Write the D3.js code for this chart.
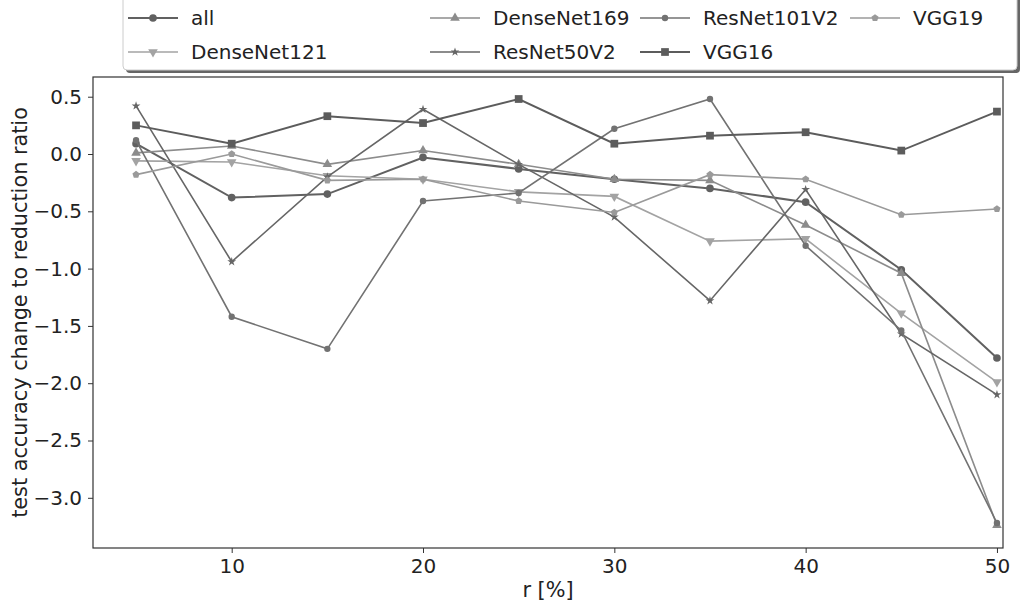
<!DOCTYPE html>
<html>
<head>
<meta charset="utf-8">
<script src="https://cdn.jsdelivr.net/npm/d3@7"></script>
<style>
  body { margin: 0; background: #fff; }
  text { font-family: "DejaVu Sans", sans-serif; fill: #222; }
</style>
</head>
<body>
<div class="svg_area"></div>
<script>
// reduction ratios on the x axis
var ratios = [5, 10, 15, 20, 25, 30, 35, 40, 45, 50];

// test accuracy change per model
var allModels   = [0.09, -0.38, -0.35, -0.03, -0.13, -0.22, -0.30, -0.42, -1.01, -1.78];
var denseNet121 = [-0.06, -0.07, -0.19, -0.22, -0.33, -0.37, -0.76, -0.74, -1.39, -1.99];
var denseNet169 = [0.01, 0.07, -0.09, 0.03, -0.09, -0.22, -0.23, -0.62, -1.04, -3.24];
var resNet50V2  = [0.42, -0.94, -0.20, 0.39, -0.09, -0.55, -1.28, -0.31, -1.57, -2.10];
var resNet101V2 = [0.12, -1.42, -1.70, -0.41, -0.34, 0.22, 0.48, -0.80, -1.54, -3.22];
var vgg16       = [0.25, 0.09, 0.33, 0.27, 0.48, 0.09, 0.16, 0.19, 0.03, 0.37];
var vgg19       = [-0.18, 0.00, -0.23, -0.22, -0.41, -0.51, -0.18, -0.22, -0.53, -0.48];

var seriesNames = ["all", "DenseNet121", "DenseNet169", "ResNet50V2", "ResNet101V2", "VGG16", "VGG19"];
var seriesValues = [allModels, denseNet121, denseNet169, resNet50V2, resNet101V2, vgg16, vgg19];

var xTicks = [10, 20, 30, 40, 50];
var yTicks = [0.5, 0.0, -0.5, -1.0, -1.5, -2.0, -2.5, -3.0];

// styling per series
var styles = {
  "all":         { color: "#616161", width: 2.0, marker: "circle", size: 46 },
  "DenseNet121": { color: "#a3a3a3", width: 1.6, marker: "triangleDown", size: 40 },
  "DenseNet169": { color: "#8c8c8c", width: 1.6, marker: "triangleUp", size: 40 },
  "ResNet50V2":  { color: "#666666", width: 1.6, marker: "star", size: 24 },
  "ResNet101V2": { color: "#727272", width: 1.6, marker: "circle", size: 32 },
  "VGG16":       { color: "#5c5c5c", width: 2.0, marker: "square", size: 60 },
  "VGG19":       { color: "#9a9a9a", width: 1.6, marker: "pentagon", size: 34 }
};

var svgWidth = 1029;
var svgHeight = 603;

var margin = { top: 77, left: 93, bottom: 55 };
var frameRight = 1003;   // where the right spine is drawn
var scaleRight = 1040;   // where x = 52.25 would fall
var chartWidth = frameRight - margin.left;
var chartHeight = svgHeight - margin.top - margin.bottom;

var svg = d3.select(".svg_area")
  .append("svg")
  .attr("width", svgWidth)
  .attr("height", svgHeight);

var chartGroup = svg.append("g")
  .attr("transform", `translate(${margin.left}, ${margin.top})`);

var xScale = d3.scaleLinear()
  .domain([2.75, 52.25])
  .range([0, scaleRight - margin.left]);

var yScale = d3.scaleLinear()
  .domain([-3.438, 0.672])
  .range([chartHeight, 0]);

var minusFmt = function(d) { return d3.format(".1f")(d).replace("-", "\u2212"); };

// axes
var bottomAxis = d3.axisBottom(xScale).tickValues(xTicks).tickSize(5).tickPadding(6);
var leftAxis = d3.axisLeft(yScale).tickValues(yTicks).tickSize(5).tickPadding(6).tickFormat(minusFmt);

var gx = chartGroup.append("g")
  .attr("transform", `translate(0, ${chartHeight})`)
  .call(bottomAxis);
var gy = chartGroup.append("g")
  .call(leftAxis);

[gx, gy].forEach(function(g) {
  g.select(".domain").remove();
  g.selectAll(".tick line").attr("stroke", "#333").attr("stroke-width", 1);
  g.selectAll(".tick text")
    .style("font-family", "DejaVu Sans, sans-serif")
    .style("font-size", "20px")
    .attr("fill", "#222");
});

// spines
chartGroup.append("rect")
  .attr("x", 0).attr("y", 0)
  .attr("width", chartWidth).attr("height", chartHeight)
  .attr("fill", "none")
  .attr("stroke", "#333")
  .attr("stroke-width", 1.2);

// symbols
function symbolFor(name, size) {
  if (name === "circle") return d3.symbol().type(d3.symbolCircle).size(size)();
  if (name === "square") return d3.symbol().type(d3.symbolSquare).size(size)();
  if (name === "star") return d3.symbol().type(d3.symbolStar).size(size)();
  if (name === "triangleUp") return d3.symbol().type(d3.symbolTriangle).size(size)();
  if (name === "triangleDown") return d3.symbol().type(d3.symbolTriangle).size(size)();
  // pentagon
  var r = Math.sqrt(size / 2.4);
  var pts = d3.range(5).map(function(i) {
    var a = -Math.PI / 2 + i * 2 * Math.PI / 5;
    return [r * Math.cos(a), r * Math.sin(a)];
  });
  return "M" + pts.join("L") + "Z";
}

var line = d3.line()
  .x(function(d) { return xScale(d[0]); })
  .y(function(d) { return yScale(d[1]); });

seriesNames.forEach(function(name, i) {
  var st = styles[name];
  var pts = ratios.map(function(r, j) { return [r, seriesValues[i][j]]; });
  var g = chartGroup.append("g");
  g.append("path")
    .attr("d", line(pts))
    .attr("fill", "none")
    .attr("stroke", st.color)
    .attr("stroke-width", st.width);
  g.selectAll("path.marker")
    .data(pts)
    .enter()
    .append("path")
    .attr("class", "marker")
    .attr("d", symbolFor(st.marker, st.size))
    .attr("transform", function(d) {
      var rot = st.marker === "triangleDown" ? " rotate(180)" : "";
      return `translate(${xScale(d[0])}, ${yScale(d[1])})` + rot;
    })
    .attr("fill", st.color);
});

// axis labels
svg.append("text")
  .attr("transform", `translate(27, ${margin.top + chartHeight / 2}) rotate(-90)`)
  .attr("text-anchor", "middle")
  .style("font-size", "20.8px")
  .text("test accuracy change to reduction ratio");

svg.append("text")
  .attr("x", 548)
  .attr("y", 597)
  .attr("text-anchor", "middle")
  .style("font-size", "20.8px")
  .text("r [%]");

// legend
var legend = svg.append("g");
legend.append("rect")
  .attr("x", 126).attr("y", -10)
  .attr("width", 894).attr("height", 83)
  .attr("rx", 4)
  .attr("fill", "#666");
legend.append("rect")
  .attr("x", 123).attr("y", -10)
  .attr("width", 894).attr("height", 80)
  .attr("rx", 4)
  .attr("fill", "#fff")
  .attr("stroke", "#ccc")
  .attr("stroke-width", 1);

var legendCols = [128, 430, 640, 850];
var legendRows = [18, 52];

seriesNames.forEach(function(name, i) {
  var st = styles[name];
  var col = Math.floor(i / 2);
  var row = i % 2;
  var lx = legendCols[col];
  var ly = legendRows[row];
  legend.append("line")
    .attr("x1", lx).attr("x2", lx + 50)
    .attr("y1", ly).attr("y2", ly)
    .attr("stroke", st.color)
    .attr("stroke-width", st.width);
  legend.append("path")
    .attr("d", symbolFor(st.marker, st.size))
    .attr("transform", `translate(${lx + 25}, ${ly})` + (st.marker === "triangleDown" ? " rotate(180)" : ""))
    .attr("fill", st.color);
  legend.append("text")
    .attr("x", lx + 63)
    .attr("y", ly + 7)
    .style("font-size", "20px")
    .text(name);
});
</script>
</body>
</html>
